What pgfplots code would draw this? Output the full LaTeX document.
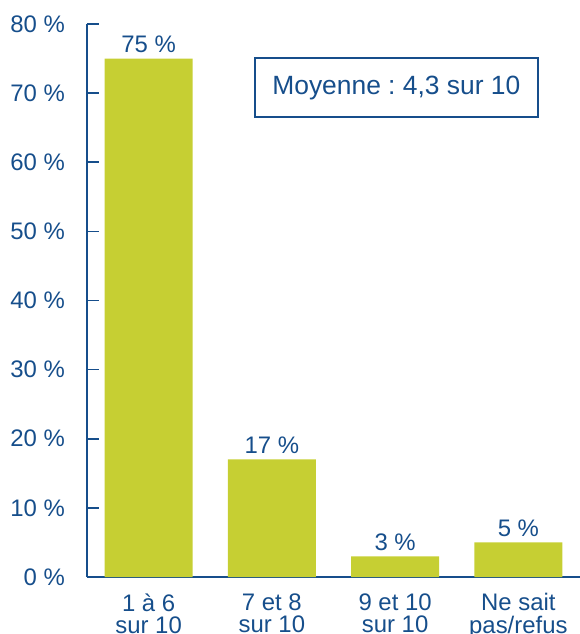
\documentclass[border=0pt]{standalone}
\usepackage{pgfplots}
\pgfplotsset{compat=1.18}
\usepackage{fontspec}
\setmainfont{Liberation Sans}
\frenchspacing
\definecolor{cblue}{HTML}{164E8B}
\definecolor{cgreen}{HTML}{C6CF33}
\begin{document}
\begin{tikzpicture}
\path[use as bounding box] (-87bp,-57bp) rectangle (493bp,577bp);
\begin{axis}[
  at={(0,0)}, anchor=south west,
  scale only axis, width=493bp, height=553bp,
  xmin=-0.5, xmax=3.5, ymin=0, ymax=80,
  axis lines*=left,
  axis line style={cblue, line width=1.6bp},
  ytick={0,10,...,80},
  yticklabel={\pgfmathprintnumber{\tick} \%},
  /pgf/number format/assume math mode=true,
  tick align=inside,
  major tick length=12bp,
  ytick style={cblue, line width=1.6bp},
  yticklabel style={font=\fontsize{24}{24}\selectfont, text=cblue, inner sep=0pt, xshift=-22bp},
  xtick={0,1,2,3},
  xticklabels={{1 à 6\\[-1.5bp]sur 10},{7 et 8\\[-1.5bp]sur 10},{9 et 10\\[-1.5bp]sur 10},{Ne sait\\[-1.5bp]pas/refus}},
  xticklabel style={font=\fontsize{24}{24}\selectfont, text=cblue, align=center, yshift=-1bp},
  xtick style={draw=none},
  minor xtick={0.5,1.5,2.5,3.5},
  minor tick length=12bp,
  minor x tick style={cblue, line width=1.6bp},
  clip=false,
  ybar, bar width=88bp,
  nodes near coords={\pgfmathprintnumber{\pgfplotspointmeta} \%},
  nodes near coords style={font=\fontsize{24}{24}\selectfont, text=cblue, /pgf/number format/assume math mode=true, yshift=2bp},
]
\addplot[fill=cgreen, draw=none] coordinates {(0,75) (1,17) (2,3) (3,5)};
\node[draw=cblue, line width=1.3bp, minimum width=283bp, minimum height=59bp, text=cblue, font=\fontsize{26.5}{26.5}\selectfont] at (axis cs:2.01,70.8) {Moyenne : 4,3 sur 10};
\end{axis}
\end{tikzpicture}
\end{document}
